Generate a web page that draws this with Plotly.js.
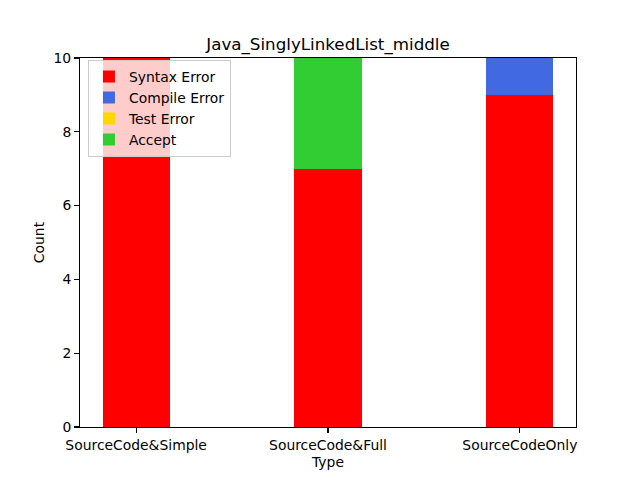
<!DOCTYPE html>
<html>
<head>
<meta charset="utf-8">
<script src="https://cdn.plot.ly/plotly-3.0.1.min.js"></script>
<style>html,body{margin:0;padding:0;background:#fff;}#chart{width:640px;height:480px;}</style>
</head>
<body>
<div id="chart"></div>
<script>
const categories = ["SourceCode&Simple", "SourceCode&Full", "SourceCodeOnly"];
const syntaxError = [10, 7, 9];
const compileError = [0, 0, 1];
const testError = [0, 0, 0];
const accept = [0, 3, 0];
const seriesNames = ["Syntax Error", "Compile Error", "Test Error", "Accept"];
const seriesColors = ["#ff0000", "#4169e1", "#ffd700", "#32cd32"];
const seriesValues = [syntaxError, compileError, testError, accept];

const traces = seriesValues.map((vals, i) => ({
  type: "bar",
  x: [0, 1, 2],
  y: vals,
  name: seriesNames[i],
  width: 0.35,
  marker: {color: seriesColors[i], line: {width: 0}},
  hoverinfo: "none"
}));

const font = {family: "DejaVu Sans", size: 13.9, color: "#000"};
const layout = {
  width: 640, height: 480,
  margin: {l: 80, r: 64, t: 58, b: 53},
  paper_bgcolor: "#fff", plot_bgcolor: "#fff",
  barmode: "stack",
  font: font,
  title: {text: "Java_SinglyLinkedList_middle", font: {family: "DejaVu Sans", size: 16.7, color: "#000"}, xref: "container", x: 328/640, xanchor: "center", y: 1 - 44/480, yanchor: "middle"},
  xaxis: {
    range: [-0.2925, 2.2925], tickvals: [0, 1, 2], ticktext: categories,
    ticks: "outside", ticklen: 4.9, tickwidth: 1.1, tickcolor: "#000",
    showline: true, linecolor: "#000", linewidth: 1.1, mirror: true,
    showgrid: false, zeroline: false,
    title: {text: "Type", font: font, standoff: 5},
    tickfont: font
  },
  yaxis: {
    range: [0, 10], tickvals: [0, 2, 4, 6, 8, 10],
    ticks: "outside", ticklen: 4.9, tickwidth: 1.1, tickcolor: "#000",
    showline: true, linecolor: "#000", linewidth: 1.1, mirror: true,
    showgrid: false, zeroline: false,
    title: {text: "Count", font: font, standoff: 5},
    tickfont: font
  },
  showlegend: true,
  legend: {
    x: 0.016, y: 0.995, xanchor: "left", yanchor: "top",
    bgcolor: "rgba(255,255,255,0.8)", bordercolor: "#cccccc", borderwidth: 1,
    font: font, traceorder: "normal", itemsizing: "constant",
    tracegroupgap: 0
  }
};
Plotly.newPlot("chart", traces, layout, {staticPlot: true, displayModeBar: false});
</script>
</body>
</html>
